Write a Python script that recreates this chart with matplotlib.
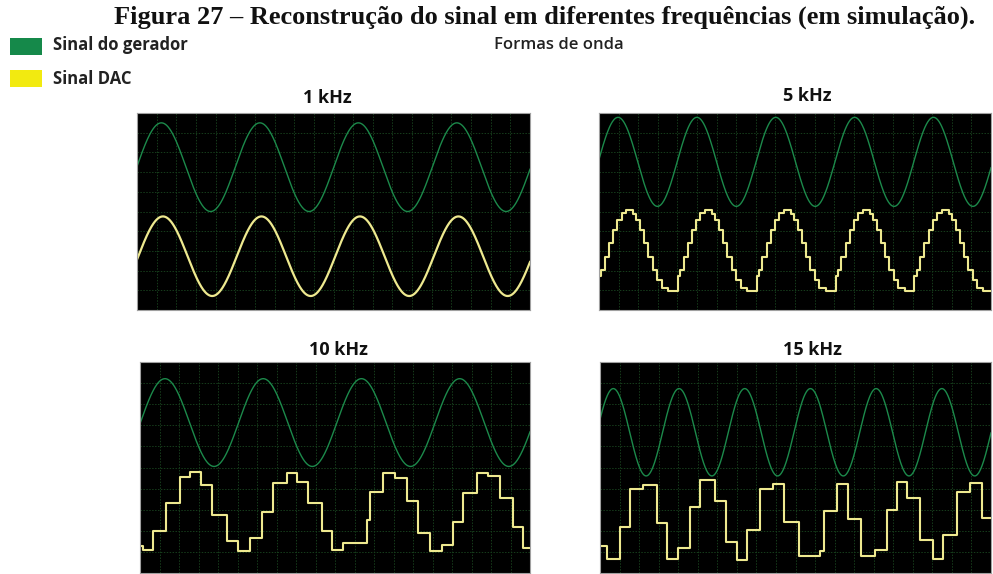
import numpy as np
import matplotlib
matplotlib.use("Agg")
import matplotlib.pyplot as plt
from matplotlib.patches import Rectangle

# ---------------- data (screen divisions: x 0..20, y 0..10) ----------------
panel_titles = ["1 kHz", "5 kHz", "10 kHz", "15 kHz"]

# generator sine read from the screens: cycles shown, x of first peak, centre, amplitude
gen_cycles = [3.99, 4.97, 3.97, 5.95]
gen_peak_x = [1.24, 0.97, 1.28, 0.68]
gen_center = [7.25, 7.52, 7.13, 6.67]
gen_amp = [2.25, 2.26, 2.08, 2.07]

# 1 kHz DAC output (appears smooth): cycles, first peak, centre, amplitude
dac1k_cycles = 3.99
dac1k_peak_x = 1.32
dac1k_center = 2.73
dac1k_amp = 2.02

# 5 kHz DAC staircase: step start times and held levels over one period
dac5k_t = [0.00, 0.12, 0.29, 0.51, 0.73, 0.94, 1.15, 1.38, 1.74, 1.90, 2.10, 2.30, 2.52, 2.74,
           2.96, 3.20, 3.52]
dac5k_v = [1.75, 2.03, 2.71, 3.39, 4.07, 4.58, 4.92, 5.06, 4.85, 4.58, 4.07, 3.39, 2.71, 2.03,
           1.52, 1.10, 0.98]

# 10 kHz DAC staircase
dac10k_t = [0.00, 0.17, 0.65, 1.33, 2.05, 2.56, 3.13, 3.68, 4.44, 5.04, 5.64, 6.24, 6.84, 7.52,
            8.03, 8.63, 9.32, 9.83, 10.43, 11.62, 11.79, 12.48, 13.08, 13.68, 14.27, 14.87,
            15.47, 16.07, 16.58, 17.26, 17.86, 18.46, 19.15, 19.66, 20.0]
dac10k_v = [1.29, 1.07, 1.97, 3.31, 4.54, 4.80, 4.17, 2.76, 1.54, 1.02, 1.65, 2.91, 4.25, 4.76,
            4.33, 3.31, 1.97, 1.10, 1.42, 2.52, 3.86, 4.72, 4.49, 3.39, 1.89, 1.02, 1.34, 2.44,
            3.81, 4.72, 4.61, 3.54, 2.20, 1.18, 1.18]

# 15 kHz DAC staircase
dac15k_t = [0.00, 0.375, 1.023, 1.535, 2.217, 2.899, 3.444, 4.007, 4.604, 5.115, 5.882, 6.445,
            6.991, 7.502, 8.184, 8.866, 9.412, 10.196, 11.253, 11.458, 12.106, 12.702, 13.333,
            14.066, 14.663, 15.175, 15.686, 16.368, 17.050, 17.562, 18.244, 18.926, 19.523, 20.0]
dac15k_v = [1.29, 0.66, 2.17, 3.97, 4.17, 2.39, 0.66, 1.18, 3.15, 4.41, 3.43, 1.46, 0.63, 2.05,
            3.97, 4.22, 2.44, 0.82, 1.02, 2.96, 4.22, 2.55, 0.82, 1.07, 2.99, 4.33, 3.54, 1.57,
            0.66, 1.81, 3.86, 4.25, 2.60, 2.60]

legend_labels = ["Sinal do gerador", "Sinal DAC"]
fig_title = "Figura 27 – Reconstrução do sinal em diferentes frequências (em simulação)."
subtitle = "Formas de onda"

# ---------------- style ----------------
GREEN = "#1c8a4b"
GREEN_LEG = "#15894a"
YELLOW = "#eee98f"
YELLOW_LEG = "#f2ea10"
GRID = "#163c1b"

W, H = 993, 574
fig = plt.figure(figsize=(W / 100, H / 100), dpi=100)

boxes = [(137, 113, 530, 310), (599, 113, 991, 310), (140, 362, 530, 573), (600, 362, 991, 573)]
title_pos = [(327, 98), (807, 96), (338, 350), (812, 350)]

def fx(px):
    return px / W

def fy(py):
    return 1 - py / H

axes = []
for (x0, y0, x1, y1) in boxes:
    ax = fig.add_axes([fx(x0), fy(y1), fx(x1) - fx(x0), fy(y0) - fy(y1)])
    ax.set_facecolor("black")
    ax.set_xlim(0, 20)
    ax.set_ylim(0, 10)
    ax.set_xticks(np.arange(1, 20))
    ax.set_yticks(np.arange(1, 10))
    ax.tick_params(length=0, labelbottom=False, labelleft=False)
    ax.grid(True, color=GRID, linestyle=(0, (1.5, 1.5)), linewidth=0.7)
    for s in ax.spines.values():
        s.set_color("#a0a0a0")
        s.set_linewidth(0.8)
    axes.append(ax)

x = np.linspace(0, 20, 1500)
for i, ax in enumerate(axes):
    period = 20 / gen_cycles[i]
    g = gen_center[i] + gen_amp[i] * np.cos(2 * np.pi * (x - gen_peak_x[i]) / period)
    ax.plot(x, g, color=GREEN, lw=1.0)

# 1 kHz DAC
p = 20 / dac1k_cycles
axes[0].plot(x, dac1k_center + dac1k_amp * np.cos(2 * np.pi * (x - dac1k_peak_x) / p),
             color=YELLOW, lw=1.6)

# 5 kHz staircase: one period read, screen shows ~5 periods
p5 = 20 / gen_cycles[1]
t5, v5 = [], []
k = 0
while k * p5 < 20:
    for t, v in zip(dac5k_t, dac5k_v):
        tt = t + k * p5
        if tt < 20:
            t5.append(tt)
            v5.append(v)
    k += 1
t5.append(20.0)
v5.append(v5[-1])
axes[1].step(t5, v5, where="post", color=YELLOW, lw=1.5)
axes[2].step(dac10k_t, dac10k_v, where="post", color=YELLOW, lw=1.5)
axes[3].step(dac15k_t, dac15k_v, where="post", color=YELLOW, lw=1.5)

for (cx, cy), t in zip(title_pos, panel_titles):
    fig.text(fx(cx), fy(cy), t, ha="center", va="center", fontsize=13,
             fontweight="bold", family="Open Sans", color="#111111")

fig.text(fx(545), fy(17), fig_title, ha="center", va="center", fontsize=19,
         fontweight="bold", family="Liberation Serif", color="#111111")
fig.text(fx(559), fy(45), subtitle, ha="center", va="center", fontsize=12,
         fontweight="semibold", family="Open Sans", color="#222222")

fig.patches.append(Rectangle((fx(10), fy(55)), fx(32), 17 / H, transform=fig.transFigure,
                             facecolor=GREEN_LEG, edgecolor="none"))
fig.patches.append(Rectangle((fx(10), fy(87)), fx(32), 17 / H, transform=fig.transFigure,
                             facecolor=YELLOW_LEG, edgecolor="none"))
fig.text(fx(53), fy(45), legend_labels[0], ha="left", va="center", fontsize=12,
         fontweight="bold", family="Open Sans", color="#222222")
fig.text(fx(53), fy(79), legend_labels[1], ha="left", va="center", fontsize=12,
         fontweight="bold", family="Open Sans", color="#222222")

fig.savefig("out.png", dpi=100)
